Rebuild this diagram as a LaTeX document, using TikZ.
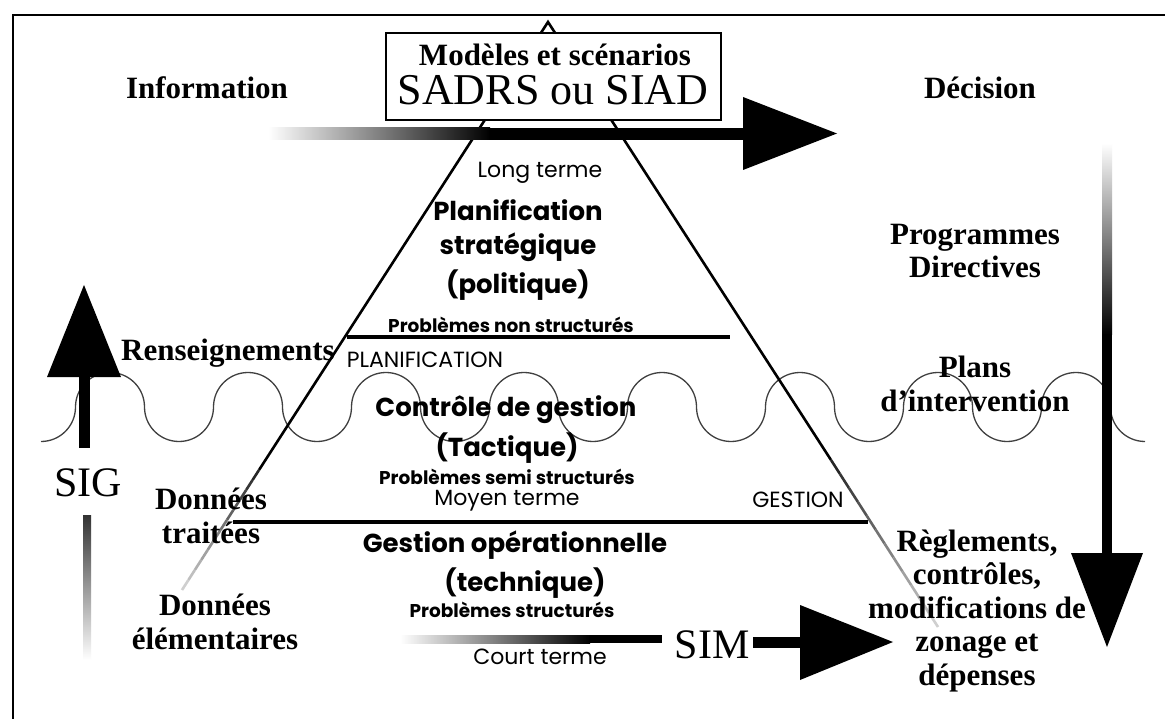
\documentclass[tikz,border=0pt]{standalone}
\usepackage{fontspec}
\setmainfont{Liberation Serif}
\newfontfamily\gsans{Poppins}
\usetikzlibrary{calc}
\begin{document}
\begin{tikzpicture}[x=1pt,y=-1pt,
  serlab/.style={font=\fontsize{31}{33.5}\selectfont\bfseries, align=center, inner sep=0pt},
  bigser/.style={font=\fontsize{42}{46}\selectfont, inner sep=0pt},
  sansb/.style={font=\gsans\fontsize{26}{28}\selectfont\bfseries, inner sep=0pt},
  sanssm/.style={font=\gsans\fontsize{18.5}{20}\selectfont\bfseries, inner sep=0pt},
  sansr/.style={font=\gsans\fontsize{22}{24}\selectfont, inner sep=0pt},
  slantline/.style={line width=2.6pt},
  levelline/.style={line width=4.5pt},
  waveline/.style={line width=1.3pt, black!75}]
\useasboundingbox (0,0) rectangle (1165,719);
\fill[white] (0,0) rectangle (1165,719);
% frame
\draw[line width=2pt] (13,719) -- (13,15) -- (1165,15);

% wave
\draw[waveline] (41,441.5) arc(90:0:34.5)
  \foreach \k in {1,...,7}{ arc(180:360:34.5) arc(180:0:34.5) }
  arc(180:360:34.5) arc(180:90:34.5);

% pyramid
\coordinate (A) at (548,22);
\coordinate (L1) at (259,470);
\coordinate (L2) at (182,590);
\coordinate (R1) at (831,460);
\coordinate (R2) at (938,627);
\draw[slantline, line join=miter] (L1) -- (A) -- (R1);
\foreach \i in {0,...,11}{
  \pgfmathtruncatemacro\c{85-\i*6}
  \draw[slantline, black!\c] ($(L1)!{\i/12}!(L2)$) -- ($(L1)!{(\i+1)/12}!(L2)$);
  \draw[slantline, black!\c] ($(R1)!{\i/12}!(R2)$) -- ($(R1)!{(\i+1)/12}!(R2)$);
}
\coordinate (n1) at (347,337);
\coordinate (n2) at (730,337);
\draw[levelline] (n1) -- (n2);
\coordinate (m1) at (233,522);
\coordinate (m2) at (868,522);
\draw[levelline] (m1) -- (m2);

% top box
\node (box) [draw, fill=white, line width=1.8pt, minimum width=335pt, minimum height=87pt, inner sep=0pt] at (553.5,76.5) {};
\node (mod) [serlab] at (555,55) {Modèles et scénarios};
\node (sadrs) [font=\fontsize{44}{46}\selectfont, inner sep=0pt] at (553,90) {SADRS ou SIAD};

% top arrow
\shade[left color=white, right color=black] (268,128) rectangle (490,140);
\fill (489,128) rectangle (745,140);
\fill (743,97) -- (837,133.5) -- (743,170) -- cycle;

% SIG arrow
\fill (47,377) -- (84,285) -- (121,377) -- cycle;
\fill (79,376) rectangle (90,448);
\shade[top color=black!80, bottom color=white] (83,515) rectangle (91,660);

% right down arrow
\shade[top color=white, bottom color=black] (1102,143) rectangle (1112,335);
\fill (1102,334) rectangle (1112,555);
\fill (1071,553) -- (1143,553) -- (1107,647) -- cycle;

% bottom bar + SIM arrow
\shade[left color=white, right color=black] (400,635) rectangle (590,643);
\fill (589,635) rectangle (662,643);
\node (sim) [bigser] at (712,645) {SIM};
\fill (753,637) rectangle (802,648);
\fill (800,605) -- (893,642) -- (800,680) -- cycle;
\node (sig) [bigser] at (88,483) {SIG};

% serif labels
\node (info) [serlab] at (207,88) {Information};
\node (dec) [serlab] at (980,88) {Décision};
\node (rens) [serlab] at (228,353) {Renseignements};
\node (dt) [serlab] at (211,516) {Données\\traitées};
\node (de) [serlab] at (215,622) {Données\\élémentaires};
\node (prog) [serlab] at (975,251) {Programmes\\Directives};
\node (plans) [serlab] at (975,384) {Plans\\d'intervention};
\node (regl) [serlab] at (977,611) {Règlements,\\contrôles,\\modifications de\\zonage et\\dépenses};

% pyramid texts
\node (lt) [sansr] at (540,173) {Long terme};
\node (plan) [sansb] at (518,210) {Planification};
\node (strat) [sansb] at (518,247) {stratégique};
\node (pol) [sansb] at (518,285) {(politique)};
\node (pns) [sanssm] at (511,325) {Problèmes non structurés};
\node (planif) [sansr] at (425,360) {PLANIFICATION};
\node (cg) [sansb] at (506,410) {Contrôle de gestion};
\node (tac) [sansb] at (507,448) {(Tactique)};
\node (pss) [sanssm] at (507,477) {Problèmes semi structurés};
\node (mt) [sansr] at (507,501) {Moyen terme};
\node (gest) [sansr] at (798,500) {GESTION};
\node (go) [sansb] at (515,545) {Gestion opérationnelle};
\node (tech) [sansb] at (525,583) {(technique)};
\node (ps) [sanssm] at (512,610) {Problèmes structurés};
\node (ct) [sansr] at (540,657) {Court terme};
\end{tikzpicture}
\end{document}
